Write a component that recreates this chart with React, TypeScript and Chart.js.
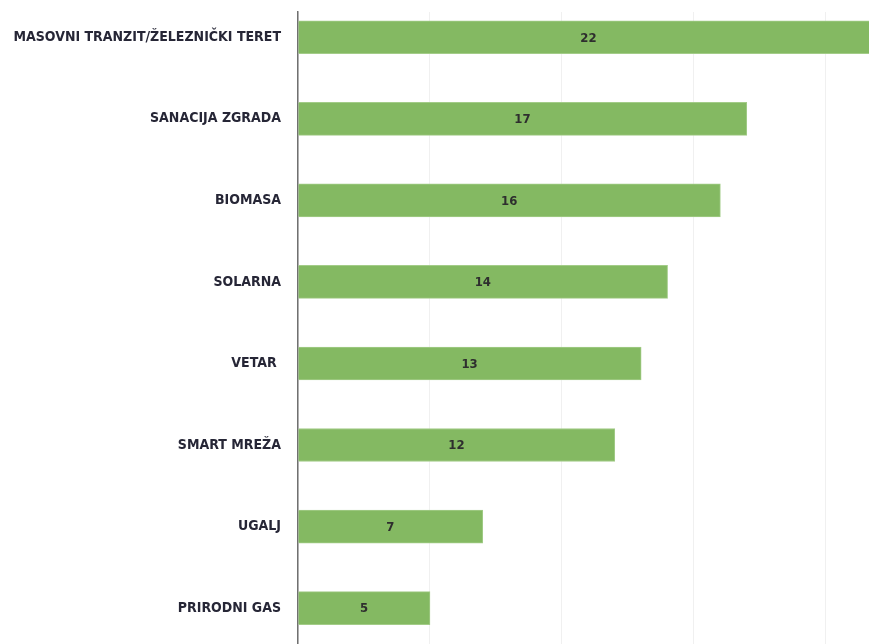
import React, { useEffect, useRef } from "react";
import { Chart, registerables } from "chart.js";

Chart.register(...registerables);

const categories = [
  "MASOVNI TRANZIT/ŽELEZNIČKI TERET",
  "SANACIJA ZGRADA",
  "BIOMASA",
  "SOLARNA",
  "VETAR ",
  "SMART MREŽA",
  "UGALJ",
  "PRIRODNI GAS",
];
const values = [22, 17, 16, 14, 13, 12, 7, 5];
const gridTicks = [0, 5, 10, 15, 20];

const LABEL_FONT = "'Liberation Sans Narrow', 'DejaVu Sans Condensed', 'Roboto Condensed', sans-serif";

const valueLabels = {
  id: "valueLabels",
  afterDatasetsDraw(chart: any) {
    const ctx = chart.ctx;
    const xs = chart.scales.x;
    const meta = chart.getDatasetMeta(0);
    ctx.save();
    ctx.font = `bold 13px ${LABEL_FONT}`;
    ctx.fillStyle = "#2e2e2e";
    ctx.textAlign = "center";
    ctx.textBaseline = "middle";
    meta.data.forEach((el: any, i: number) => {
      const d = chart.data.datasets[0].data[i];
      const x0 = xs.getPixelForValue(0);
      const x1 = xs.getPixelForValue(d.x);
      ctx.fillText(String(d.x), (x0 + x1) / 2, el.y + 1);
    });
    ctx.restore();
  },
};

export default function App() {
  const ref = useRef<HTMLCanvasElement>(null);
  useEffect(() => {
    if (!ref.current) return;
    const chart = new Chart(ref.current, {
      type: "bar",
      data: {
        datasets: [
          {
            data: values.map((v, i) => ({ x: v, y: i })),
            backgroundColor: "#84b962",
            borderColor: "#a3cc88",
            borderWidth: 1,
            barThickness: 33,
          },
        ],
      },
      options: {
        indexAxis: "y",
        animation: false,
        responsive: false,
        maintainAspectRatio: false,
        layout: { padding: { top: 12, right: 0, left: 0, bottom: 0 } },
        plugins: { legend: { display: false }, tooltip: { enabled: false } },
        scales: {
          x: {
            type: "linear",
            min: 0,
            max: 21.63,
            offset: false,
            afterBuildTicks: (s: any) => {
              s.ticks = gridTicks.map((v) => ({ value: v }));
            },
            afterFit: (s: any) => {
              s.height = 0;
              s.paddingLeft = 0;
              s.paddingRight = 0;
            },
            ticks: { display: false },
            grid: { color: "#f0f0f0", lineWidth: 1, drawTicks: false, offset: false },
            border: { display: false },
          },
          y: {
            type: "linear",
            reverse: true,
            offset: false,
            min: -0.31,
            max: 7.44,
            afterBuildTicks: (s: any) => {
              s.ticks = categories.map((_, i) => ({ value: i }));
            },
            afterFit: (s: any) => {
              s.width = 298;
              s.paddingTop = 0;
              s.paddingBottom = 0;
            },
            ticks: {
              callback: (v: any) => categories[v as number] ?? "",
              color: "#262636",
              padding: 17,
              font: { family: LABEL_FONT, size: 14, weight: "bold" },
            },
            grid: { display: false, drawTicks: false, offset: false },
            border: { display: true, color: "#707070", width: 1.5 },
          },
        },
      },
      plugins: [valueLabels],
    } as any);
    return () => chart.destroy();
  }, []);
  return (
    <div style={{ position: "absolute", left: 0, top: 0, width: 869, height: 644, background: "#fff" }}>
      <canvas ref={ref} width={869} height={644} style={{ width: 869, height: 644 }} />
    </div>
  );
}
